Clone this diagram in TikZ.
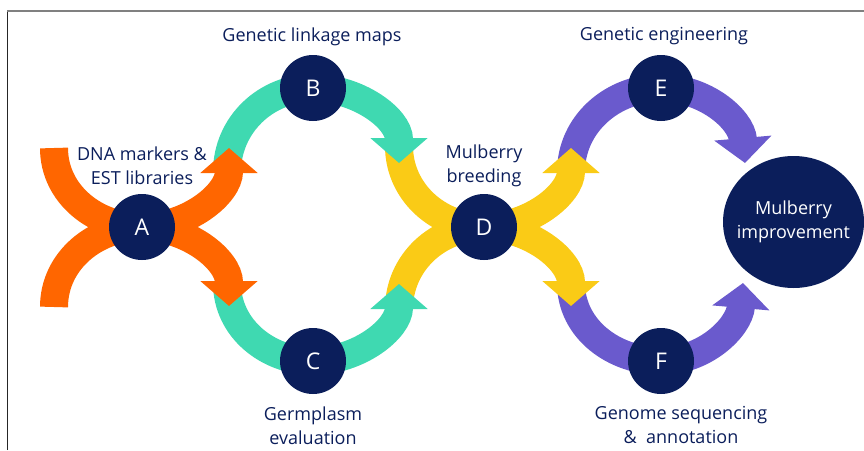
\documentclass[tikz,border=0pt]{standalone}
\usepackage{fontspec}
\setmainfont{Open Sans}
\usetikzlibrary{arrows.meta,shapes.geometric,backgrounds}
\definecolor{navy}{HTML}{0B1E5B}
\definecolor{mborange}{HTML}{FF6600}
\definecolor{mbgreen}{HTML}{3FD9B1}
\definecolor{mbyellow}{HTML}{FACB16}
\definecolor{mbpurple}{HTML}{6A5ACD}

\begin{document}
\begin{tikzpicture}[x=1pt,y=-1pt,
  stage/.style={circle,fill=navy,minimum size=66pt,inner sep=0pt,text=white,font=\fontsize{23}{27}\selectfont},
  lbl/.style={align=center,text=navy,font=\fontsize{18}{24}\selectfont},
  band/.style={line width=28pt,-{Triangle[length=25pt,width=56pt]}}]
\useasboundingbox (0,0) rectangle (864,450);

% Frame
\draw[black!85,line width=1pt] (7,450) -- (7,11);
\draw[gray,line width=1.2pt] (7,11) -- (864,11);

% Stages
\node[stage] (A) at (142,227) {A};
\node[stage] (B) at (313,88) {B};
\node[stage] (C) at (313,361) {C};
\node[stage] (D) at (484,227) {D};
\node[stage] (E) at (661,88) {E};
\node[stage] (F) at (661,361) {F};
\node[ellipse,fill=navy,minimum width=141pt,minimum height=132pt,inner sep=0pt] (G) at (793.5,222) {};
\node[lbl,text=white] (lG) at (G.center) {Mulberry\\improvement};

% Band ends
\coordinate (a1) at (54,148);  \coordinate (a2) at (229,148);
\coordinate (a3) at (54,307);  \coordinate (a4) at (229,306);
\coordinate (b1) at (227,172); \coordinate (b2) at (399,163);
\coordinate (c1) at (227,283); \coordinate (c2) at (399,284);
\coordinate (d1) at (399,146); \coordinate (d2) at (571,148);
\coordinate (d3) at (399,309); \coordinate (d4) at (571,306);
\coordinate (e1) at (571,172); \coordinate (e2) at (745,163);
\coordinate (f1) at (571,283); \coordinate (f2) at (743,283);

% Bands
\begin{scope}[on background layer]
\draw[band,mbpurple] (e1) to[out=90,in=180] (E.center) to[out=0,in=95] (e2);
\draw[band,mbpurple] (f1) to[out=-90,in=180] (F.center) to[out=0,in=-95] (f2);
\draw[band,mbyellow] (d1) to[out=-90,in=180] (D.center) to[out=0,in=-90] (d2);
\draw[band,mbyellow] (d3) to[out=90,in=180] (D.center) to[out=0,in=90] (d4);
\draw[band,mbgreen] (b1) to[out=90,in=180] (B.center) to[out=0,in=90] (b2);
\draw[band,mbgreen] (c1) to[out=-90,in=180] (C.center) to[out=0,in=-90] (c2);
\draw[band,mborange] (a1) to[out=-90,in=180] (A.center) to[out=0,in=-90] (a2);
\draw[band,mborange] (a3) to[out=90,in=180] (A.center) to[out=0,in=90] (a4);
\end{scope}

% Labels
\node[lbl] (lA) at (142,166) {DNA markers \&\\EST libraries};
\node[lbl] (lB) at (312,37) {Genetic linkage maps};
\node[lbl] (lC) at (313,426) {Germplasm\\evaluation};
\node[lbl] (lD) at (484,166) {Mulberry\\breeding};
\node[lbl] (lE) at (664,36) {Genetic engineering};
\node[lbl] (lF) at (681,425) {Genome sequencing\\\&~~annotation};
\end{tikzpicture}
\end{document}
